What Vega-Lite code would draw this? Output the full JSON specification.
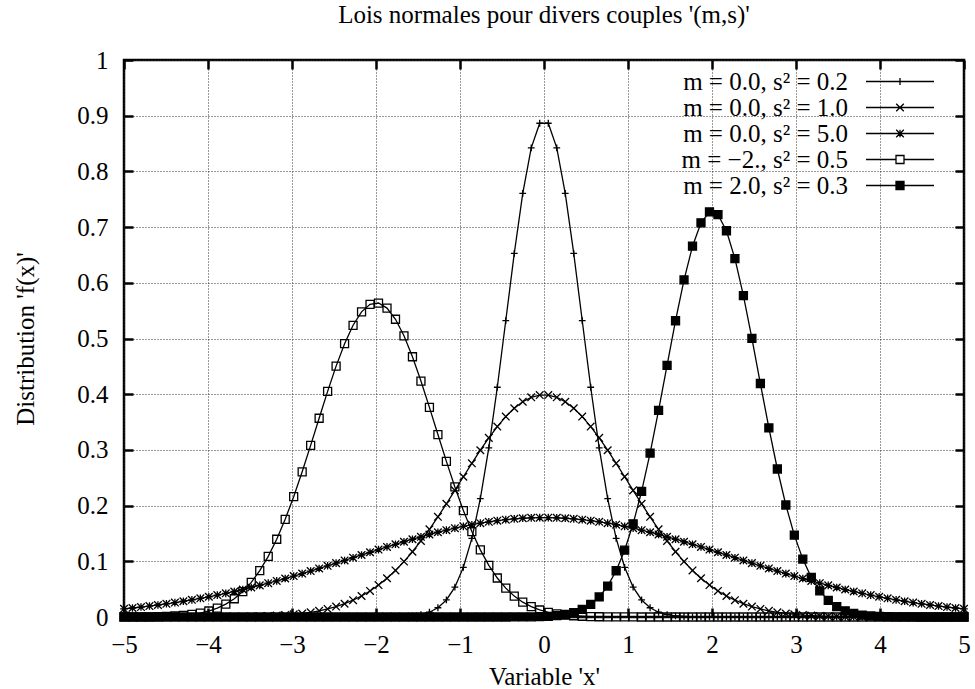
{
  "$schema": "https://vega.github.io/schema/vega-lite/v6.json",
  "width": 840,
  "height": 557,
  "autosize": {"type": "none"},
  "padding": {"left": 124, "top": 60, "right": 11, "bottom": 72},
  "background": "white",
  "title": {"text": "Lois normales pour divers couples '(m,s)'", "font": "Liberation Serif", "fontSize": 25, "fontWeight": "normal", "color": "black", "anchor": "middle", "frame": "group", "offset": 0, "baseline": "alphabetic"},
  "config": {
    "view": {"stroke": "black", "strokeWidth": 2.5},
    "axis": {"labelFont": "Liberation Serif", "labelFontSize": 25, "labelColor": "black", "titleFont": "Liberation Serif", "titleFontSize": 25, "titleFontWeight": "normal", "titleColor": "black", "domain": false, "tickColor": "black", "tickWidth": 2.5, "tickSize": -9, "labelFlush": false, "labelOverlap": false, "gridColor": "#333", "gridDash": [1, 2], "gridWidth": 1, "gridOpacity": 1}
  },
  "data": {"values": [
{"s":"a","x":-5,"y":0},{"s":"a","x":-4.899,"y":0},{"s":"a","x":-4.798,"y":0},{"s":"a","x":-4.697,"y":0},{"s":"a","x":-4.596,"y":0},{"s":"a","x":-4.495,"y":0},{"s":"a","x":-4.394,"y":0},{"s":"a","x":-4.293,"y":0},{"s":"a","x":-4.192,"y":0},{"s":"a","x":-4.091,"y":0},
{"s":"a","x":-3.99,"y":0},{"s":"a","x":-3.889,"y":0},{"s":"a","x":-3.788,"y":0},{"s":"a","x":-3.687,"y":0},{"s":"a","x":-3.586,"y":0},{"s":"a","x":-3.485,"y":0},{"s":"a","x":-3.384,"y":0},{"s":"a","x":-3.283,"y":0},{"s":"a","x":-3.182,"y":0},{"s":"a","x":-3.081,"y":0},
{"s":"a","x":-2.98,"y":0},{"s":"a","x":-2.879,"y":0},{"s":"a","x":-2.778,"y":0},{"s":"a","x":-2.677,"y":0},{"s":"a","x":-2.576,"y":0},{"s":"a","x":-2.475,"y":0},{"s":"a","x":-2.374,"y":0},{"s":"a","x":-2.273,"y":0},{"s":"a","x":-2.172,"y":0},{"s":"a","x":-2.071,"y":0},
{"s":"a","x":-1.97,"y":0.00005},{"s":"a","x":-1.869,"y":0.00014},{"s":"a","x":-1.768,"y":0.00036},{"s":"a","x":-1.667,"y":0.00086},{"s":"a","x":-1.566,"y":0.00194},{"s":"a","x":-1.465,"y":0.00418},{"s":"a","x":-1.364,"y":0.00854},{"s":"a","x":-1.263,"y":0.01658},{"s":"a","x":-1.162,"y":0.03057},{"s":"a","x":-1.061,"y":0.05359},
{"s":"a","x":-0.96,"y":0.08926},{"s":"a","x":-0.859,"y":0.14126},{"s":"a","x":-0.758,"y":0.21248},{"s":"a","x":-0.657,"y":0.30364},{"s":"a","x":-0.556,"y":0.41244},{"s":"a","x":-0.455,"y":0.53224},{"s":"a","x":-0.354,"y":0.65268},{"s":"a","x":-0.253,"y":0.76058},{"s":"a","x":-0.152,"y":0.84225},{"s":"a","x":-0.051,"y":0.88643},
{"s":"a","x":0.051,"y":0.88643},{"s":"a","x":0.152,"y":0.84225},{"s":"a","x":0.253,"y":0.76058},{"s":"a","x":0.354,"y":0.65268},{"s":"a","x":0.455,"y":0.53224},{"s":"a","x":0.556,"y":0.41244},{"s":"a","x":0.657,"y":0.30364},{"s":"a","x":0.758,"y":0.21248},{"s":"a","x":0.859,"y":0.14126},{"s":"a","x":0.96,"y":0.08926},
{"s":"a","x":1.061,"y":0.05359},{"s":"a","x":1.162,"y":0.03057},{"s":"a","x":1.263,"y":0.01658},{"s":"a","x":1.364,"y":0.00854},{"s":"a","x":1.465,"y":0.00418},{"s":"a","x":1.566,"y":0.00194},{"s":"a","x":1.667,"y":0.00086},{"s":"a","x":1.768,"y":0.00036},{"s":"a","x":1.869,"y":0.00014},{"s":"a","x":1.97,"y":0.00005},
{"s":"a","x":2.071,"y":0},{"s":"a","x":2.172,"y":0},{"s":"a","x":2.273,"y":0},{"s":"a","x":2.374,"y":0},{"s":"a","x":2.475,"y":0},{"s":"a","x":2.576,"y":0},{"s":"a","x":2.677,"y":0},{"s":"a","x":2.778,"y":0},{"s":"a","x":2.879,"y":0},{"s":"a","x":2.98,"y":0},
{"s":"a","x":3.081,"y":0},{"s":"a","x":3.182,"y":0},{"s":"a","x":3.283,"y":0},{"s":"a","x":3.384,"y":0},{"s":"a","x":3.485,"y":0},{"s":"a","x":3.586,"y":0},{"s":"a","x":3.687,"y":0},{"s":"a","x":3.788,"y":0},{"s":"a","x":3.889,"y":0},{"s":"a","x":3.99,"y":0},
{"s":"a","x":4.091,"y":0},{"s":"a","x":4.192,"y":0},{"s":"a","x":4.293,"y":0},{"s":"a","x":4.394,"y":0},{"s":"a","x":4.495,"y":0},{"s":"a","x":4.596,"y":0},{"s":"a","x":4.697,"y":0},{"s":"a","x":4.798,"y":0},{"s":"a","x":4.899,"y":0},{"s":"a","x":5,"y":0},
{"s":"b","x":-5,"y":0},{"s":"b","x":-4.899,"y":0},{"s":"b","x":-4.798,"y":0},{"s":"b","x":-4.697,"y":0.00001},{"s":"b","x":-4.596,"y":0.00001},{"s":"b","x":-4.495,"y":0.00002},{"s":"b","x":-4.394,"y":0.00003},{"s":"b","x":-4.293,"y":0.00004},{"s":"b","x":-4.192,"y":0.00006},{"s":"b","x":-4.091,"y":0.00009},
{"s":"b","x":-3.99,"y":0.00014},{"s":"b","x":-3.889,"y":0.00021},{"s":"b","x":-3.788,"y":0.00031},{"s":"b","x":-3.687,"y":0.00045},{"s":"b","x":-3.586,"y":0.00064},{"s":"b","x":-3.485,"y":0.00092},{"s":"b","x":-3.384,"y":0.0013},{"s":"b","x":-3.283,"y":0.00182},{"s":"b","x":-3.182,"y":0.00253},{"s":"b","x":-3.081,"y":0.00347},
{"s":"b","x":-2.98,"y":0.00471},{"s":"b","x":-2.879,"y":0.00633},{"s":"b","x":-2.778,"y":0.00842},{"s":"b","x":-2.677,"y":0.01109},{"s":"b","x":-2.576,"y":0.01446},{"s":"b","x":-2.475,"y":0.01867},{"s":"b","x":-2.374,"y":0.02385},{"s":"b","x":-2.273,"y":0.03015},{"s":"b","x":-2.172,"y":0.03774},{"s":"b","x":-2.071,"y":0.04675},
{"s":"b","x":-1.97,"y":0.05734},{"s":"b","x":-1.869,"y":0.0696},{"s":"b","x":-1.768,"y":0.08363},{"s":"b","x":-1.667,"y":0.09948},{"s":"b","x":-1.566,"y":0.11711},{"s":"b","x":-1.465,"y":0.13649},{"s":"b","x":-1.364,"y":0.15744},{"s":"b","x":-1.263,"y":0.17978},{"s":"b","x":-1.162,"y":0.20318},{"s":"b","x":-1.061,"y":0.22732},
{"s":"b","x":-0.96,"y":0.25175},{"s":"b","x":-0.859,"y":0.27595},{"s":"b","x":-0.758,"y":0.29942},{"s":"b","x":-0.657,"y":0.32159},{"s":"b","x":-0.556,"y":0.3419},{"s":"b","x":-0.455,"y":0.35979},{"s":"b","x":-0.354,"y":0.37477},{"s":"b","x":-0.253,"y":0.38641},{"s":"b","x":-0.152,"y":0.39438},{"s":"b","x":-0.051,"y":0.39843},
{"s":"b","x":0.051,"y":0.39843},{"s":"b","x":0.152,"y":0.39438},{"s":"b","x":0.253,"y":0.38641},{"s":"b","x":0.354,"y":0.37477},{"s":"b","x":0.455,"y":0.35979},{"s":"b","x":0.556,"y":0.3419},{"s":"b","x":0.657,"y":0.32159},{"s":"b","x":0.758,"y":0.29942},{"s":"b","x":0.859,"y":0.27595},{"s":"b","x":0.96,"y":0.25175},
{"s":"b","x":1.061,"y":0.22732},{"s":"b","x":1.162,"y":0.20318},{"s":"b","x":1.263,"y":0.17978},{"s":"b","x":1.364,"y":0.15744},{"s":"b","x":1.465,"y":0.13649},{"s":"b","x":1.566,"y":0.11711},{"s":"b","x":1.667,"y":0.09948},{"s":"b","x":1.768,"y":0.08363},{"s":"b","x":1.869,"y":0.0696},{"s":"b","x":1.97,"y":0.05734},
{"s":"b","x":2.071,"y":0.04675},{"s":"b","x":2.172,"y":0.03774},{"s":"b","x":2.273,"y":0.03015},{"s":"b","x":2.374,"y":0.02385},{"s":"b","x":2.475,"y":0.01867},{"s":"b","x":2.576,"y":0.01446},{"s":"b","x":2.677,"y":0.01109},{"s":"b","x":2.778,"y":0.00842},{"s":"b","x":2.879,"y":0.00633},{"s":"b","x":2.98,"y":0.00471},
{"s":"b","x":3.081,"y":0.00347},{"s":"b","x":3.182,"y":0.00253},{"s":"b","x":3.283,"y":0.00182},{"s":"b","x":3.384,"y":0.0013},{"s":"b","x":3.485,"y":0.00092},{"s":"b","x":3.586,"y":0.00064},{"s":"b","x":3.687,"y":0.00045},{"s":"b","x":3.788,"y":0.00031},{"s":"b","x":3.889,"y":0.00021},{"s":"b","x":3.99,"y":0.00014},
{"s":"b","x":4.091,"y":0.00009},{"s":"b","x":4.192,"y":0.00006},{"s":"b","x":4.293,"y":0.00004},{"s":"b","x":4.394,"y":0.00003},{"s":"b","x":4.495,"y":0.00002},{"s":"b","x":4.596,"y":0.00001},{"s":"b","x":4.697,"y":0.00001},{"s":"b","x":4.798,"y":0},{"s":"b","x":4.899,"y":0},{"s":"b","x":5,"y":0},
{"s":"c","x":-5,"y":0.01465},{"s":"c","x":-4.899,"y":0.01619},{"s":"c","x":-4.798,"y":0.01785},{"s":"c","x":-4.697,"y":0.01965},{"s":"c","x":-4.596,"y":0.02158},{"s":"c","x":-4.495,"y":0.02366},{"s":"c","x":-4.394,"y":0.02588},{"s":"c","x":-4.293,"y":0.02825},{"s":"c","x":-4.192,"y":0.03078},{"s":"c","x":-4.091,"y":0.03347},
{"s":"c","x":-3.99,"y":0.03631},{"s":"c","x":-3.889,"y":0.03932},{"s":"c","x":-3.788,"y":0.04249},{"s":"c","x":-3.687,"y":0.04582},{"s":"c","x":-3.586,"y":0.04931},{"s":"c","x":-3.485,"y":0.05297},{"s":"c","x":-3.384,"y":0.05677},{"s":"c","x":-3.283,"y":0.06073},{"s":"c","x":-3.182,"y":0.06483},{"s":"c","x":-3.081,"y":0.06906},
{"s":"c","x":-2.98,"y":0.07342},{"s":"c","x":-2.879,"y":0.07789},{"s":"c","x":-2.778,"y":0.08247},{"s":"c","x":-2.677,"y":0.08714},{"s":"c","x":-2.576,"y":0.09189},{"s":"c","x":-2.475,"y":0.09671},{"s":"c","x":-2.374,"y":0.10156},{"s":"c","x":-2.273,"y":0.10644},{"s":"c","x":-2.172,"y":0.11133},{"s":"c","x":-2.071,"y":0.1162},
{"s":"c","x":-1.97,"y":0.12104},{"s":"c","x":-1.869,"y":0.12582},{"s":"c","x":-1.768,"y":0.13053},{"s":"c","x":-1.667,"y":0.13514},{"s":"c","x":-1.566,"y":0.13962},{"s":"c","x":-1.465,"y":0.14397},{"s":"c","x":-1.364,"y":0.14814},{"s":"c","x":-1.263,"y":0.15212},{"s":"c","x":-1.162,"y":0.15589},{"s":"c","x":-1.061,"y":0.15943},
{"s":"c","x":-0.96,"y":0.16272},{"s":"c","x":-0.859,"y":0.16573},{"s":"c","x":-0.758,"y":0.16846},{"s":"c","x":-0.657,"y":0.17088},{"s":"c","x":-0.556,"y":0.17299},{"s":"c","x":-0.455,"y":0.17476},{"s":"c","x":-0.354,"y":0.17619},{"s":"c","x":-0.253,"y":0.17728},{"s":"c","x":-0.152,"y":0.178},{"s":"c","x":-0.051,"y":0.17836},
{"s":"c","x":0.051,"y":0.17836},{"s":"c","x":0.152,"y":0.178},{"s":"c","x":0.253,"y":0.17728},{"s":"c","x":0.354,"y":0.17619},{"s":"c","x":0.455,"y":0.17476},{"s":"c","x":0.556,"y":0.17299},{"s":"c","x":0.657,"y":0.17088},{"s":"c","x":0.758,"y":0.16846},{"s":"c","x":0.859,"y":0.16573},{"s":"c","x":0.96,"y":0.16272},
{"s":"c","x":1.061,"y":0.15943},{"s":"c","x":1.162,"y":0.15589},{"s":"c","x":1.263,"y":0.15212},{"s":"c","x":1.364,"y":0.14814},{"s":"c","x":1.465,"y":0.14397},{"s":"c","x":1.566,"y":0.13962},{"s":"c","x":1.667,"y":0.13514},{"s":"c","x":1.768,"y":0.13053},{"s":"c","x":1.869,"y":0.12582},{"s":"c","x":1.97,"y":0.12104},
{"s":"c","x":2.071,"y":0.1162},{"s":"c","x":2.172,"y":0.11133},{"s":"c","x":2.273,"y":0.10644},{"s":"c","x":2.374,"y":0.10156},{"s":"c","x":2.475,"y":0.09671},{"s":"c","x":2.576,"y":0.09189},{"s":"c","x":2.677,"y":0.08714},{"s":"c","x":2.778,"y":0.08247},{"s":"c","x":2.879,"y":0.07789},{"s":"c","x":2.98,"y":0.07342},
{"s":"c","x":3.081,"y":0.06906},{"s":"c","x":3.182,"y":0.06483},{"s":"c","x":3.283,"y":0.06073},{"s":"c","x":3.384,"y":0.05677},{"s":"c","x":3.485,"y":0.05297},{"s":"c","x":3.586,"y":0.04931},{"s":"c","x":3.687,"y":0.04582},{"s":"c","x":3.788,"y":0.04249},{"s":"c","x":3.889,"y":0.03932},{"s":"c","x":3.99,"y":0.03631},
{"s":"c","x":4.091,"y":0.03347},{"s":"c","x":4.192,"y":0.03078},{"s":"c","x":4.293,"y":0.02825},{"s":"c","x":4.394,"y":0.02588},{"s":"c","x":4.495,"y":0.02366},{"s":"c","x":4.596,"y":0.02158},{"s":"c","x":4.697,"y":0.01965},{"s":"c","x":4.798,"y":0.01785},{"s":"c","x":4.899,"y":0.01619},{"s":"c","x":5,"y":0.01465},
{"s":"d","x":-5,"y":0.00007},{"s":"d","x":-4.899,"y":0.00013},{"s":"d","x":-4.798,"y":0.00022},{"s":"d","x":-4.697,"y":0.00039},{"s":"d","x":-4.596,"y":0.00067},{"s":"d","x":-4.495,"y":0.00112},{"s":"d","x":-4.394,"y":0.00183},{"s":"d","x":-4.293,"y":0.00294},{"s":"d","x":-4.192,"y":0.00462},{"s":"d","x":-4.091,"y":0.00713},
{"s":"d","x":-3.99,"y":0.01076},{"s":"d","x":-3.889,"y":0.01592},{"s":"d","x":-3.788,"y":0.02308},{"s":"d","x":-3.687,"y":0.03278},{"s":"d","x":-3.586,"y":0.04562},{"s":"d","x":-3.485,"y":0.06223},{"s":"d","x":-3.384,"y":0.08314},{"s":"d","x":-3.283,"y":0.10883},{"s":"d","x":-3.182,"y":0.13959},{"s":"d","x":-3.081,"y":0.17544},
{"s":"d","x":-2.98,"y":0.21603},{"s":"d","x":-2.879,"y":0.26063},{"s":"d","x":-2.778,"y":0.30809},{"s":"d","x":-2.677,"y":0.35684},{"s":"d","x":-2.576,"y":0.405},{"s":"d","x":-2.475,"y":0.45038},{"s":"d","x":-2.374,"y":0.49063},{"s":"d","x":-2.273,"y":0.52374},{"s":"d","x":-2.172,"y":0.5478},{"s":"d","x":-2.071,"y":0.56138},
{"s":"d","x":-1.97,"y":0.56367},{"s":"d","x":-1.869,"y":0.55455},{"s":"d","x":-1.768,"y":0.53455},{"s":"d","x":-1.667,"y":0.50486},{"s":"d","x":-1.566,"y":0.46721},{"s":"d","x":-1.465,"y":0.4236},{"s":"d","x":-1.364,"y":0.3763},{"s":"d","x":-1.263,"y":0.32755},{"s":"d","x":-1.162,"y":0.27935},{"s":"d","x":-1.061,"y":0.23345},
{"s":"d","x":-0.96,"y":0.19113},{"s":"d","x":-0.859,"y":0.15333},{"s":"d","x":-0.758,"y":0.12052},{"s":"d","x":-0.657,"y":0.09282},{"s":"d","x":-0.556,"y":0.07004},{"s":"d","x":-0.455,"y":0.05177},{"s":"d","x":-0.354,"y":0.0375},{"s":"d","x":-0.253,"y":0.02662},{"s":"d","x":-0.152,"y":0.01851},{"s":"d","x":-0.051,"y":0.01261},
{"s":"d","x":0.051,"y":0.00842},{"s":"d","x":0.152,"y":0.00551},{"s":"d","x":0.253,"y":0.00353},{"s":"d","x":0.354,"y":0.00222},{"s":"d","x":0.455,"y":0.00136},{"s":"d","x":0.556,"y":0.00082},{"s":"d","x":0.657,"y":0.00049},{"s":"d","x":0.758,"y":0.00028},{"s":"d","x":0.859,"y":0.00016},{"s":"d","x":0.96,"y":0.00009},
{"s":"d","x":1.061,"y":0.00005},{"s":"d","x":1.162,"y":0.00003},{"s":"d","x":1.263,"y":0.00001},{"s":"d","x":1.364,"y":0},{"s":"d","x":1.465,"y":0},{"s":"d","x":1.566,"y":0},{"s":"d","x":1.667,"y":0},{"s":"d","x":1.768,"y":0},{"s":"d","x":1.869,"y":0},{"s":"d","x":1.97,"y":0},
{"s":"d","x":2.071,"y":0},{"s":"d","x":2.172,"y":0},{"s":"d","x":2.273,"y":0},{"s":"d","x":2.374,"y":0},{"s":"d","x":2.475,"y":0},{"s":"d","x":2.576,"y":0},{"s":"d","x":2.677,"y":0},{"s":"d","x":2.778,"y":0},{"s":"d","x":2.879,"y":0},{"s":"d","x":2.98,"y":0},
{"s":"d","x":3.081,"y":0},{"s":"d","x":3.182,"y":0},{"s":"d","x":3.283,"y":0},{"s":"d","x":3.384,"y":0},{"s":"d","x":3.485,"y":0},{"s":"d","x":3.586,"y":0},{"s":"d","x":3.687,"y":0},{"s":"d","x":3.788,"y":0},{"s":"d","x":3.889,"y":0},{"s":"d","x":3.99,"y":0},
{"s":"d","x":4.091,"y":0},{"s":"d","x":4.192,"y":0},{"s":"d","x":4.293,"y":0},{"s":"d","x":4.394,"y":0},{"s":"d","x":4.495,"y":0},{"s":"d","x":4.596,"y":0},{"s":"d","x":4.697,"y":0},{"s":"d","x":4.798,"y":0},{"s":"d","x":4.899,"y":0},{"s":"d","x":5,"y":0},
{"s":"e","x":-5,"y":0},{"s":"e","x":-4.899,"y":0},{"s":"e","x":-4.798,"y":0},{"s":"e","x":-4.697,"y":0},{"s":"e","x":-4.596,"y":0},{"s":"e","x":-4.495,"y":0},{"s":"e","x":-4.394,"y":0},{"s":"e","x":-4.293,"y":0},{"s":"e","x":-4.192,"y":0},{"s":"e","x":-4.091,"y":0},
{"s":"e","x":-3.99,"y":0},{"s":"e","x":-3.889,"y":0},{"s":"e","x":-3.788,"y":0},{"s":"e","x":-3.687,"y":0},{"s":"e","x":-3.586,"y":0},{"s":"e","x":-3.485,"y":0},{"s":"e","x":-3.384,"y":0},{"s":"e","x":-3.283,"y":0},{"s":"e","x":-3.182,"y":0},{"s":"e","x":-3.081,"y":0},
{"s":"e","x":-2.98,"y":0},{"s":"e","x":-2.879,"y":0},{"s":"e","x":-2.778,"y":0},{"s":"e","x":-2.677,"y":0},{"s":"e","x":-2.576,"y":0},{"s":"e","x":-2.475,"y":0},{"s":"e","x":-2.374,"y":0},{"s":"e","x":-2.273,"y":0},{"s":"e","x":-2.172,"y":0},{"s":"e","x":-2.071,"y":0},
{"s":"e","x":-1.97,"y":0},{"s":"e","x":-1.869,"y":0},{"s":"e","x":-1.768,"y":0},{"s":"e","x":-1.667,"y":0},{"s":"e","x":-1.566,"y":0},{"s":"e","x":-1.465,"y":0},{"s":"e","x":-1.364,"y":0},{"s":"e","x":-1.263,"y":0},{"s":"e","x":-1.162,"y":0},{"s":"e","x":-1.061,"y":0},
{"s":"e","x":-0.96,"y":0},{"s":"e","x":-0.859,"y":0},{"s":"e","x":-0.758,"y":0},{"s":"e","x":-0.657,"y":0},{"s":"e","x":-0.556,"y":0},{"s":"e","x":-0.455,"y":0.00003},{"s":"e","x":-0.354,"y":0.00007},{"s":"e","x":-0.253,"y":0.00016},{"s":"e","x":-0.152,"y":0.00032},{"s":"e","x":-0.051,"y":0.00066},
{"s":"e","x":0.051,"y":0.00129},{"s":"e","x":0.152,"y":0.00245},{"s":"e","x":0.253,"y":0.00449},{"s":"e","x":0.354,"y":0.00794},{"s":"e","x":0.455,"y":0.0136},{"s":"e","x":0.556,"y":0.0225},{"s":"e","x":0.657,"y":0.03598},{"s":"e","x":0.758,"y":0.0556},{"s":"e","x":0.859,"y":0.08305},{"s":"e","x":0.96,"y":0.11991},
{"s":"e","x":1.061,"y":0.16734},{"s":"e","x":1.162,"y":0.22571},{"s":"e","x":1.263,"y":0.29428},{"s":"e","x":1.364,"y":0.37085},{"s":"e","x":1.465,"y":0.45171},{"s":"e","x":1.566,"y":0.53188},{"s":"e","x":1.667,"y":0.60523},{"s":"e","x":1.768,"y":0.66572},{"s":"e","x":1.869,"y":0.70773},{"s":"e","x":1.97,"y":0.72725},
{"s":"e","x":2.071,"y":0.72232},{"s":"e","x":2.172,"y":0.69344},{"s":"e","x":2.273,"y":0.64342},{"s":"e","x":2.374,"y":0.57707},{"s":"e","x":2.475,"y":0.50035},{"s":"e","x":2.576,"y":0.41918},{"s":"e","x":2.677,"y":0.33944},{"s":"e","x":2.778,"y":0.26572},{"s":"e","x":2.879,"y":0.20106},{"s":"e","x":2.98,"y":0.14705},
{"s":"e","x":3.081,"y":0.10396},{"s":"e","x":3.182,"y":0.07102},{"s":"e","x":3.283,"y":0.04691},{"s":"e","x":3.384,"y":0.02994},{"s":"e","x":3.485,"y":0.01848},{"s":"e","x":3.586,"y":0.01101},{"s":"e","x":3.687,"y":0.00635},{"s":"e","x":3.788,"y":0.00354},{"s":"e","x":3.889,"y":0.0019},{"s":"e","x":3.99,"y":0.00099},
{"s":"e","x":4.091,"y":0.0005},{"s":"e","x":4.192,"y":0.00024},{"s":"e","x":4.293,"y":0.00011},{"s":"e","x":4.394,"y":0.00005},{"s":"e","x":4.495,"y":0.00002},{"s":"e","x":4.596,"y":0.00001},{"s":"e","x":4.697,"y":0},{"s":"e","x":4.798,"y":0},{"s":"e","x":4.899,"y":0},{"s":"e","x":5,"y":0}
  ]},
  "layer": [
    {
      "mark": {"type": "line", "stroke": "black", "strokeWidth": 1.3},
      "encoding": {
        "x": {"field": "x", "type": "quantitative", "scale": {"domain": [-5, 5], "nice": false, "zero": false},
          "axis": {"orient": "bottom", "values": [-5, -4, -3, -2, -1, 0, 1, 2, 3, 4, 5], "format": "d", "grid": true, "title": "Variable 'x'", "labelPadding": 24, "titleBaseline": "alphabetic", "titleX": 420, "titleY": 67}},
        "y": {"field": "y", "type": "quantitative", "scale": {"domain": [0, 1], "nice": false},
          "axis": {"orient": "left", "values": [0, 0.1, 0.2, 0.3, 0.4, 0.5, 0.6, 0.7, 0.8, 0.9, 1], "format": "~g", "grid": true, "title": "Distribution 'f(x)'", "labelPadding": 25, "titleBaseline": "alphabetic", "titleAngle": 270, "titleX": -91, "titleY": 278.5}},
        "detail": {"field": "s", "type": "nominal"}
      }
    },
    {
      "mark": {"type": "point", "filled": true, "stroke": "black", "strokeWidth": 1.3, "size": 64, "opacity": 1},
      "encoding": {
        "x": {"field": "x", "type": "quantitative", "axis": {"orient": "top", "values": [-5, -4, -3, -2, -1, 0, 1, 2, 3, 4, 5], "labels": false, "grid": false, "title": null}},
        "y": {"field": "y", "type": "quantitative", "axis": {"orient": "right", "values": [0, 0.1, 0.2, 0.3, 0.4, 0.5, 0.6, 0.7, 0.8, 0.9, 1], "labels": false, "grid": false, "title": null}},
        "shape": {"field": "s", "type": "nominal",
          "scale": {"domain": ["a", "b", "c", "d", "e"], "range": ["M-0.85,0H0.85M0,-0.85V0.85", "M-0.95,-0.95L0.95,0.95M-0.95,0.95L0.95,-0.95", "M-0.95,0H0.95M0,-0.95V0.95M-0.95,-0.95L0.95,0.95M-0.95,0.95L0.95,-0.95", "M-1,-1H1V1H-1Z", "M-1,-1H1V1H-1Z"]},
          "legend": null},
        "fill": {"field": "s", "type": "nominal", "scale": {"domain": ["a", "b", "c", "d", "e"], "range": ["transparent", "transparent", "transparent", "transparent", "black"]}, "legend": null}
      }
    },
    {
      "transform": [{"filter": "datum.y > 5"}],
      "mark": {"type": "point", "filled": false, "stroke": "black", "strokeWidth": 1.3, "size": 64, "opacity": 1},
      "encoding": {
        "shape": {"field": "s", "type": "nominal",
          "scale": {"domain": ["a", "b", "c", "d", "e"], "range": ["M-8.5,0H8.5M0,-0.85V0.85", "M-8.5,0H8.5M-0.95,-0.95L0.95,0.95M-0.95,0.95L0.95,-0.95", "M-8.5,0H8.5M0,-0.95V0.95M-0.95,-0.95L0.95,0.95M-0.95,0.95L0.95,-0.95", "M-8.5,0H-1M1,0H8.5M-1,-1H1V1H-1Z", "M-8.5,0H8.5M-1,-1H1V1H-1ZM-1,-0.75H1M-1,-0.5H1M-1,-0.25H1M-1,0.25H1M-1,0.5H1M-1,0.75H1"]},
          "legend": {"orient": "none", "legendX": 763.5, "legendY": 9, "title": null, "padding": 0, "labelAlign": "right", "labelOffset": -64.5, "labelFont": "Liberation Serif", "labelFontSize": 25, "labelColor": "black", "labelLimit": 0, "rowPadding": -0.25, "symbolSize": 64, "symbolStrokeWidth": 1.3, "symbolStrokeColor": "black", "symbolOpacity": 1,
            "labelExpr": "datum.value === 'a' ? 'm = 0.0, s² = 0.2' : datum.value === 'b' ? 'm = 0.0, s² = 1.0' : datum.value === 'c' ? 'm = 0.0, s² = 5.0' : datum.value === 'd' ? 'm = −2., s² = 0.5' : 'm = 2.0, s² = 0.3'"}}
      }
    }
  ],
  "resolve": {"axis": {"x": "independent", "y": "independent"}, "scale": {"shape": "independent"}}
}
